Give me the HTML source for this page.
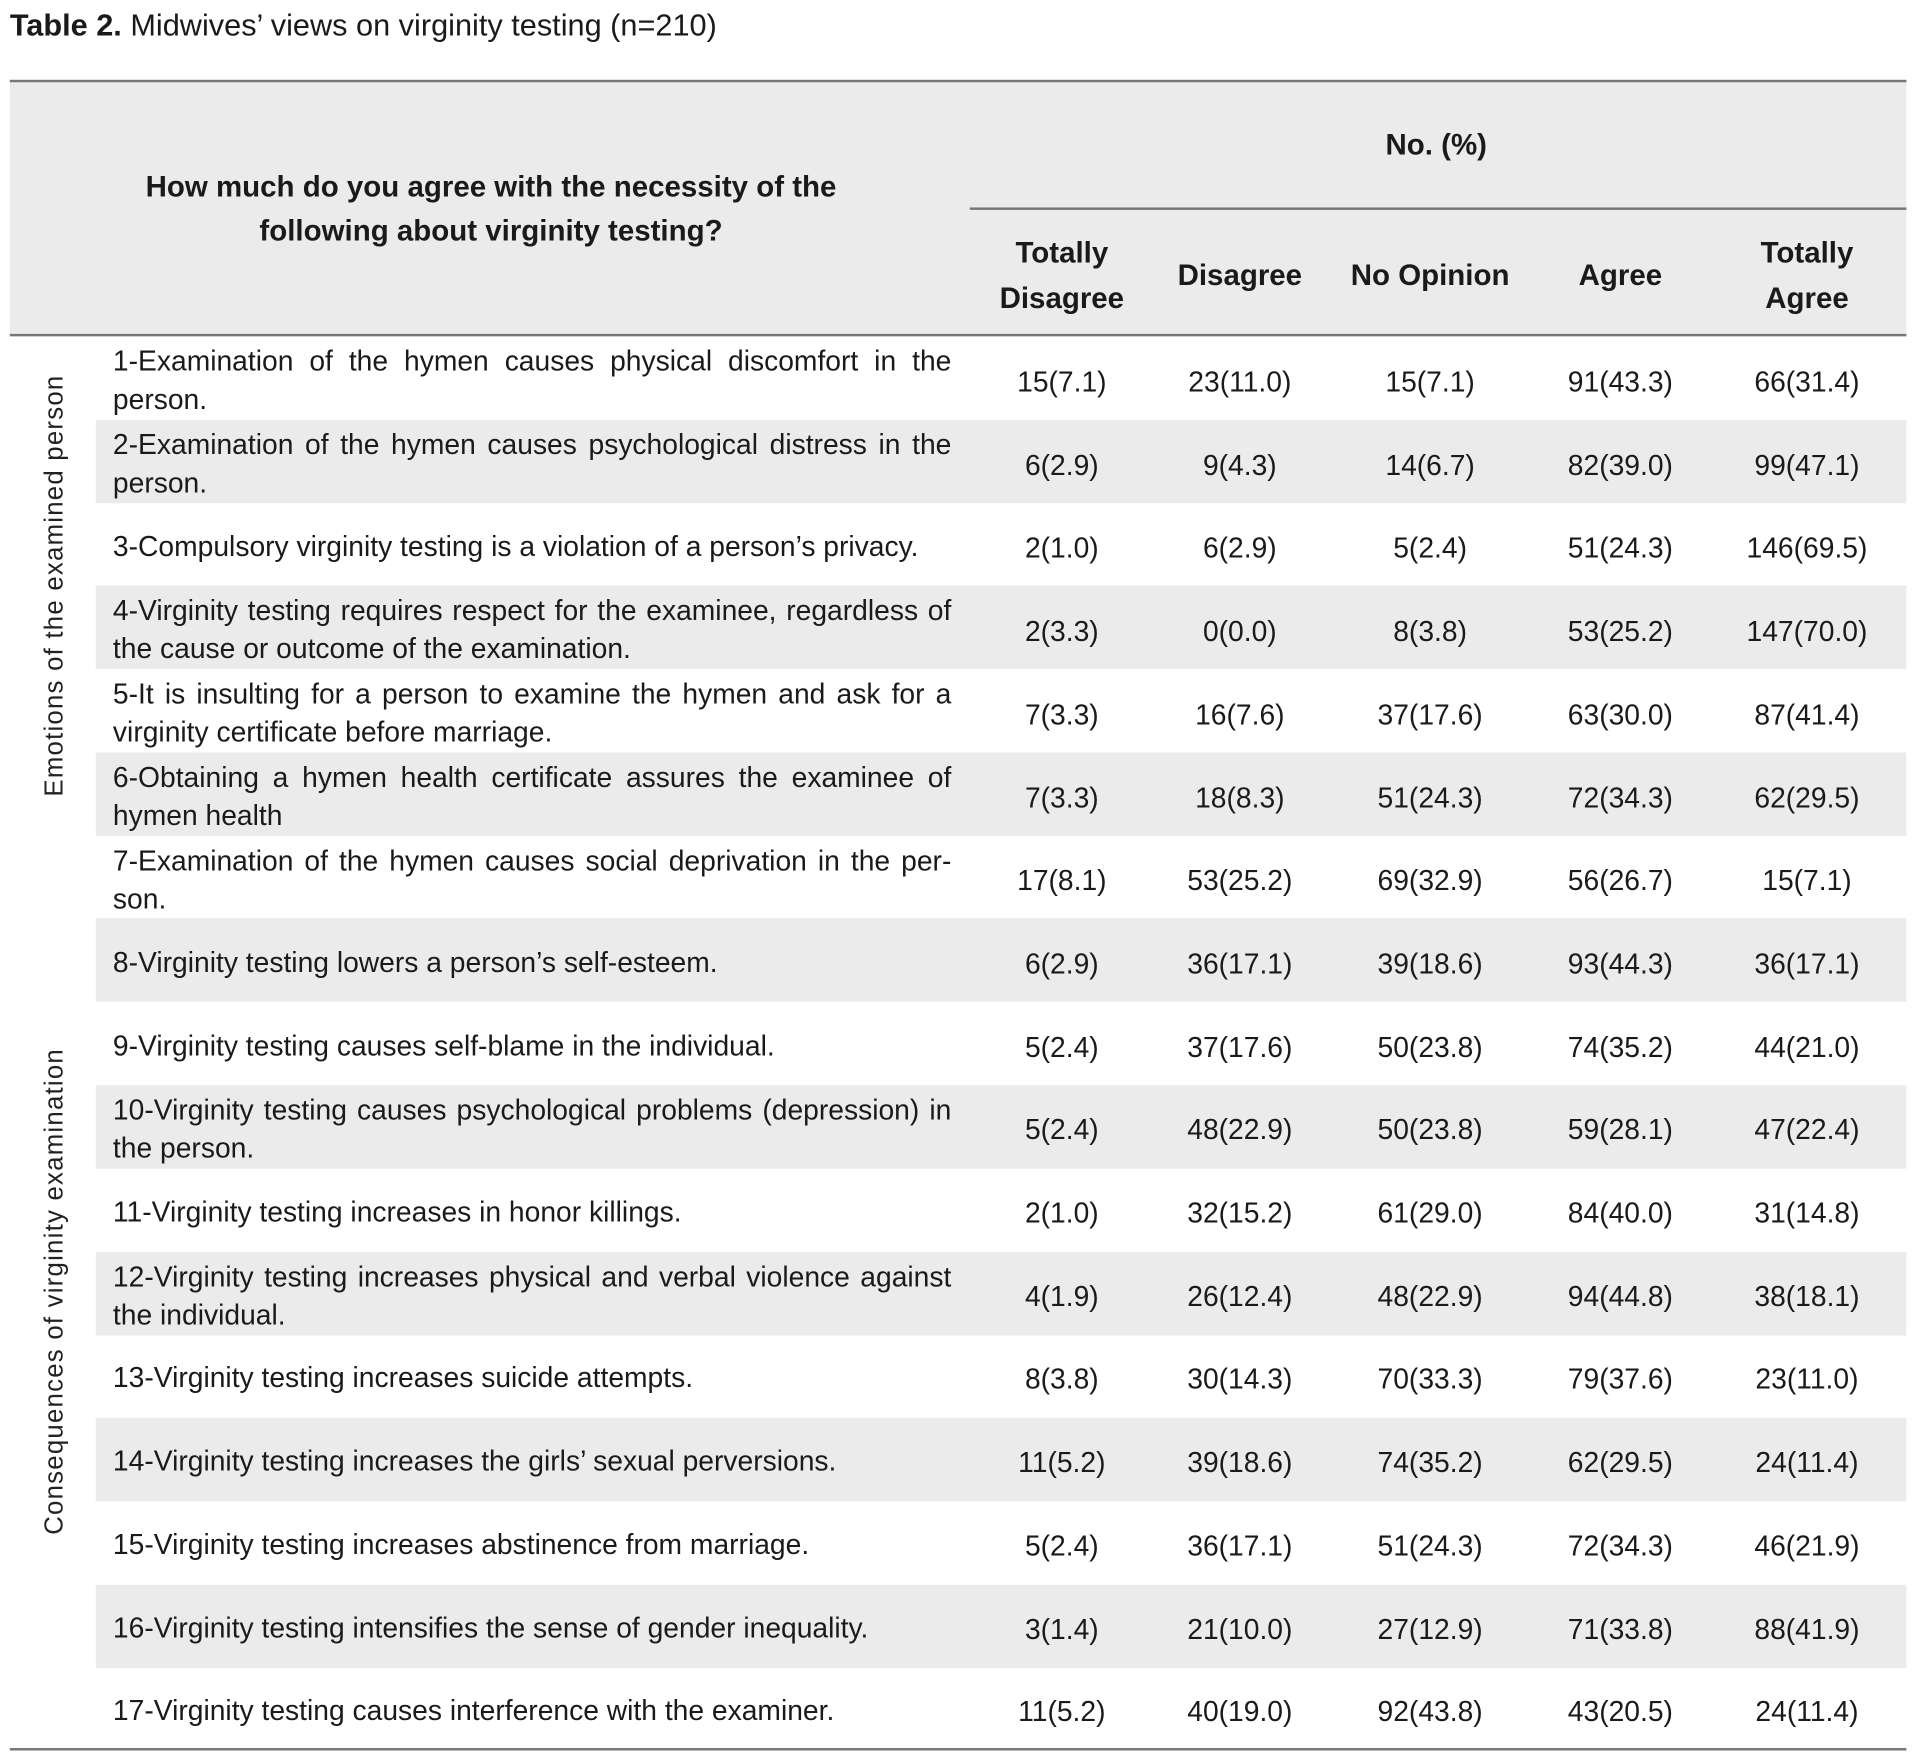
<!DOCTYPE html>
<html><head><meta charset="utf-8">
<style>
html,body{margin:0;padding:0;background:#fff;}
body{width:1915px;height:1756px;overflow:hidden;position:relative;}
#c{position:absolute;left:0;top:0;width:1560px;height:1430px;transform:scale(1.22756);transform-origin:0 0;font-family:"Liberation Sans",sans-serif;color:#1a1a1a;}
.abs{position:absolute;}
.rule{position:absolute;background:#777;height:2px;}
.band{position:absolute;left:78px;width:1475px;height:68px;background:#ebebeb;}
.q{position:absolute;left:92px;width:683px;font-size:23px;line-height:31px;text-align:justify;text-align-last:left;}
.v{position:absolute;width:150px;margin-left:-75px;text-align:center;font-size:23px;line-height:30px;}
.h{position:absolute;width:150px;margin-left:-75px;text-align:center;font-size:24px;font-weight:bold;line-height:37px;}
.rot{position:absolute;font-family:"Liberation Sans",sans-serif;font-size:21px;letter-spacing:1px;white-space:nowrap;transform:translate(-50%,-50%) rotate(-90deg);color:#222;}
</style></head><body><div id="c">
<div class="abs" style="left:8px;top:7px;font-size:25px;white-space:nowrap;"><b>Table 2.</b> Midwives’ views on virginity testing (n=210)</div>
<div class="abs" style="left:8px;top:66px;width:1545px;height:207px;background:#ebebeb;"></div>
<div class="rule" style="left:8px;top:65px;width:1545px;"></div>
<div class="rule" style="left:790px;top:169px;width:763px;"></div>
<div class="rule" style="left:8px;top:272px;width:1545px;"></div>
<div class="abs" style="left:1070px;top:105px;width:200px;text-align:center;font-size:24px;font-weight:bold;">No. (%)</div>
<div class="abs" style="left:0px;top:135px;width:800px;text-align:center;font-size:24px;font-weight:bold;line-height:36px;">How much do you agree with the necessity of the<br>following about virginity testing?</div>
<div class="h" style="left:865px;top:188px;">Totally<br>Disagree</div>
<div class="h" style="left:1010px;top:206px;">Disagree</div>
<div class="h" style="left:1165px;top:206px;">No Opinion</div>
<div class="h" style="left:1320px;top:206px;">Agree</div>
<div class="h" style="left:1472px;top:188px;">Totally<br>Agree</div>

<div class="band" style="top:342px;"></div>
<div class="band" style="top:477px;"></div>
<div class="band" style="top:613px;"></div>
<div class="band" style="top:748px;"></div>
<div class="band" style="top:884px;"></div>
<div class="band" style="top:1020px;"></div>
<div class="band" style="top:1155px;"></div>
<div class="band" style="top:1291px;"></div>

<div class="q" style="top:279px;">1-Examination of the hymen causes physical discomfort in the person.</div>
<div class="v" style="left:865px;top:296px;">15(7.1)</div><div class="v" style="left:1010px;top:296px;">23(11.0)</div><div class="v" style="left:1165px;top:296px;">15(7.1)</div><div class="v" style="left:1320px;top:296px;">91(43.3)</div><div class="v" style="left:1472px;top:296px;">66(31.4)</div>

<div class="q" style="top:347px;">2-Examination of the hymen causes psychological distress in the person.</div>
<div class="v" style="left:865px;top:364px;">6(2.9)</div><div class="v" style="left:1010px;top:364px;">9(4.3)</div><div class="v" style="left:1165px;top:364px;">14(6.7)</div><div class="v" style="left:1320px;top:364px;">82(39.0)</div><div class="v" style="left:1472px;top:364px;">99(47.1)</div>

<div class="q" style="top:430px;">3-Compulsory virginity testing is a violation of a person’s privacy.</div>
<div class="v" style="left:865px;top:431px;">2(1.0)</div><div class="v" style="left:1010px;top:431px;">6(2.9)</div><div class="v" style="left:1165px;top:431px;">5(2.4)</div><div class="v" style="left:1320px;top:431px;">51(24.3)</div><div class="v" style="left:1472px;top:431px;">146(69.5)</div>

<div class="q" style="top:482px;">4-Virginity testing requires respect for the examinee, regardless of the cause or outcome of the examination.</div>
<div class="v" style="left:865px;top:499px;">2(3.3)</div><div class="v" style="left:1010px;top:499px;">0(0.0)</div><div class="v" style="left:1165px;top:499px;">8(3.8)</div><div class="v" style="left:1320px;top:499px;">53(25.2)</div><div class="v" style="left:1472px;top:499px;">147(70.0)</div>

<div class="q" style="top:550px;">5-It is insulting for a person to examine the hymen and ask for a virginity certificate before marriage.</div>
<div class="v" style="left:865px;top:567px;">7(3.3)</div><div class="v" style="left:1010px;top:567px;">16(7.6)</div><div class="v" style="left:1165px;top:567px;">37(17.6)</div><div class="v" style="left:1320px;top:567px;">63(30.0)</div><div class="v" style="left:1472px;top:567px;">87(41.4)</div>

<div class="q" style="top:618px;">6-Obtaining a hymen health certificate assures the examinee of hymen health</div>
<div class="v" style="left:865px;top:635px;">7(3.3)</div><div class="v" style="left:1010px;top:635px;">18(8.3)</div><div class="v" style="left:1165px;top:635px;">51(24.3)</div><div class="v" style="left:1320px;top:635px;">72(34.3)</div><div class="v" style="left:1472px;top:635px;">62(29.5)</div>

<div class="q" style="top:686px;">7-Examination of the hymen causes social deprivation in the per-son.</div>
<div class="v" style="left:865px;top:702px;">17(8.1)</div><div class="v" style="left:1010px;top:702px;">53(25.2)</div><div class="v" style="left:1165px;top:702px;">69(32.9)</div><div class="v" style="left:1320px;top:702px;">56(26.7)</div><div class="v" style="left:1472px;top:702px;">15(7.1)</div>

<div class="q" style="top:769px;">8-Virginity testing lowers a person’s self-esteem.</div>
<div class="v" style="left:865px;top:770px;">6(2.9)</div><div class="v" style="left:1010px;top:770px;">36(17.1)</div><div class="v" style="left:1165px;top:770px;">39(18.6)</div><div class="v" style="left:1320px;top:770px;">93(44.3)</div><div class="v" style="left:1472px;top:770px;">36(17.1)</div>

<div class="q" style="top:837px;">9-Virginity testing causes self-blame in the individual.</div>
<div class="v" style="left:865px;top:838px;">5(2.4)</div><div class="v" style="left:1010px;top:838px;">37(17.6)</div><div class="v" style="left:1165px;top:838px;">50(23.8)</div><div class="v" style="left:1320px;top:838px;">74(35.2)</div><div class="v" style="left:1472px;top:838px;">44(21.0)</div>

<div class="q" style="top:889px;">10-Virginity testing causes psychological problems (depression) in the person.</div>
<div class="v" style="left:865px;top:905px;">5(2.4)</div><div class="v" style="left:1010px;top:905px;">48(22.9)</div><div class="v" style="left:1165px;top:905px;">50(23.8)</div><div class="v" style="left:1320px;top:905px;">59(28.1)</div><div class="v" style="left:1472px;top:905px;">47(22.4)</div>

<div class="q" style="top:972px;">11-Virginity testing increases in honor killings.</div>
<div class="v" style="left:865px;top:973px;">2(1.0)</div><div class="v" style="left:1010px;top:973px;">32(15.2)</div><div class="v" style="left:1165px;top:973px;">61(29.0)</div><div class="v" style="left:1320px;top:973px;">84(40.0)</div><div class="v" style="left:1472px;top:973px;">31(14.8)</div>

<div class="q" style="top:1025px;">12-Virginity testing increases physical and verbal violence against the individual.</div>
<div class="v" style="left:865px;top:1041px;">4(1.9)</div><div class="v" style="left:1010px;top:1041px;">26(12.4)</div><div class="v" style="left:1165px;top:1041px;">48(22.9)</div><div class="v" style="left:1320px;top:1041px;">94(44.8)</div><div class="v" style="left:1472px;top:1041px;">38(18.1)</div>

<div class="q" style="top:1107px;">13-Virginity testing increases suicide attempts.</div>
<div class="v" style="left:865px;top:1108px;">8(3.8)</div><div class="v" style="left:1010px;top:1108px;">30(14.3)</div><div class="v" style="left:1165px;top:1108px;">70(33.3)</div><div class="v" style="left:1320px;top:1108px;">79(37.6)</div><div class="v" style="left:1472px;top:1108px;">23(11.0)</div>

<div class="q" style="top:1175px;">14-Virginity testing increases the girls’ sexual perversions.</div>
<div class="v" style="left:865px;top:1176px;">11(5.2)</div><div class="v" style="left:1010px;top:1176px;">39(18.6)</div><div class="v" style="left:1165px;top:1176px;">74(35.2)</div><div class="v" style="left:1320px;top:1176px;">62(29.5)</div><div class="v" style="left:1472px;top:1176px;">24(11.4)</div>

<div class="q" style="top:1243px;">15-Virginity testing increases abstinence from marriage.</div>
<div class="v" style="left:865px;top:1244px;">5(2.4)</div><div class="v" style="left:1010px;top:1244px;">36(17.1)</div><div class="v" style="left:1165px;top:1244px;">51(24.3)</div><div class="v" style="left:1320px;top:1244px;">72(34.3)</div><div class="v" style="left:1472px;top:1244px;">46(21.9)</div>

<div class="q" style="top:1311px;">16-Virginity testing intensifies the sense of gender inequality.</div>
<div class="v" style="left:865px;top:1312px;">3(1.4)</div><div class="v" style="left:1010px;top:1312px;">21(10.0)</div><div class="v" style="left:1165px;top:1312px;">27(12.9)</div><div class="v" style="left:1320px;top:1312px;">71(33.8)</div><div class="v" style="left:1472px;top:1312px;">88(41.9)</div>

<div class="q" style="top:1378px;">17-Virginity testing causes interference with the examiner.</div>
<div class="v" style="left:865px;top:1379px;">11(5.2)</div><div class="v" style="left:1010px;top:1379px;">40(19.0)</div><div class="v" style="left:1165px;top:1379px;">92(43.8)</div><div class="v" style="left:1320px;top:1379px;">43(20.5)</div><div class="v" style="left:1472px;top:1379px;">24(11.4)</div>

<div class="rule" style="left:8px;top:1424px;width:1545px;"></div>
<div class="rot" style="left:45px;top:477px;">Emotions of the examined person</div>
<div class="rot" style="left:45px;top:1052px;">Consequences of virginity examination</div>
</div>
</body></html>
